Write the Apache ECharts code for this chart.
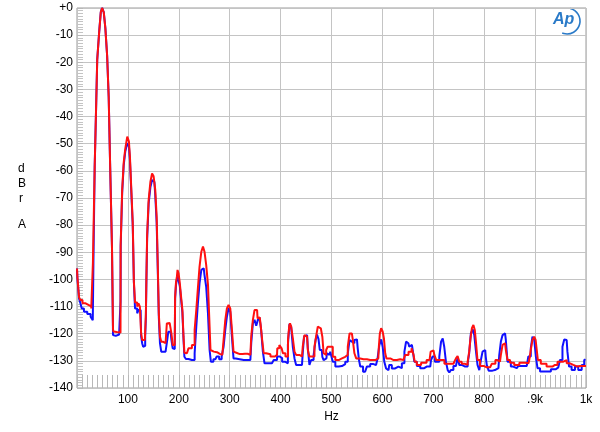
<!DOCTYPE html>
<html><head><meta charset="utf-8">
<script src="https://cdn.jsdelivr.net/npm/echarts@6/dist/echarts.min.js"></script>
<style>html,body{margin:0;padding:0;background:#fff}#c{width:600px;height:432px}</style>
</head><body><div id="c"></div>
<script>
// Frequency ticks (Hz) and labels
const xTicks = [100,200,300,400,500,600,700,800,900,1000];
const xTickLabels = ['100','200','300','400','500','600','700','800','.9k','1k'];
const yTopLabel = '+0';

// Red trace [Hz, dBrA]
const redSeries = [[0,-96],[1.5,-99],[3,-102.5],[5,-106.5],[8,-107.6],[13.6,-108.8],[20,-109.4],[25,-109.9],[31,-110.7],[31.5,-94],[34.5,-94],[35,-58.5],[37.5,-58],[38,-35],[39.5,-35],[40,-19],[43.5,-19],[44,-8.4],[46.5,-8.4],[47,-1.5],[49,-1.5],[49.6,0],[52.3,0],[52.8,-1.5],[55.5,-1.5],[56,-7.5],[59,-7.5],[59.4,-17.6],[62,-17.6],[62.6,-33],[64.5,-33],[65,-55],[68.5,-55],[69,-88.4],[70.5,-88.4],[71,-118.4],[72.4,-119.2],[78,-119.4],[85.5,-119.6],[85.6,-108],[86,-87.3],[88.5,-87.3],[89,-67],[91.5,-67],[92,-57],[94.5,-57],[95,-52],[98.5,-52],[99,-47.4],[101,-47.4],[103,-49.2],[105,-54.8],[108.5,-67],[110.5,-79],[113,-100.8],[115,-108.5],[117,-108.5],[119.5,-110],[122,-108.8],[125,-110],[127,-119.9],[129,-122.3],[133.3,-122.3],[134.6,-119.2],[136,-113],[136.6,-100],[139,-83.6],[142.5,-70.7],[146,-64],[149,-61],[152,-62],[155.5,-67],[157.5,-76.9],[159.5,-93],[162,-112.5],[164,-121.1],[167,-123],[172,-123.5],[176,-123.3],[177,-116.2],[180,-116],[184,-116],[187,-119.9],[189,-124.2],[192,-124.2],[193.5,-106.4],[195.5,-101],[197,-99],[198,-96.5],[201,-97.7],[203,-101.4],[205.5,-106],[208.5,-111],[210,-121],[212,-127],[216,-127.2],[222,-125.4],[229.5,-124.2],[232.7,-118.6],[236,-111.3],[239,-103.3],[242.5,-95.3],[246,-89.8],[249,-87.9],[252,-89.8],[255.7,-94.7],[259,-102],[261,-115],[263.5,-126],[265.5,-126.6],[272,-126.8],[278,-127.4],[283,-127.8],[288,-127.2],[289.6,-120.5],[293,-115],[296,-110.7],[299.5,-109.4],[302.8,-110.7],[306,-118.6],[309,-126.6],[311,-127.2],[320,-127.5],[330,-127.4],[340.6,-127.8],[344,-121],[347,-115],[350.5,-111.3],[353.8,-111.3],[355.7,-114.3],[359,-114],[362,-116.2],[365.6,-122.3],[368,-127.2],[375,-127.6],[385,-128.4],[393,-127.8],[394,-125.4],[401,-124.2],[403,-125.4],[406,-127.2],[413,-128.4],[416,-122.3],[418,-117],[419,-116.2],[422.5,-117.4],[425.6,-121.7],[429,-126.6],[432,-127.8],[442,-128.4],[445,-124.8],[448.6,-120.5],[452,-121],[455,-126],[458,-128.4],[465,-128.4],[468,-124.8],[471.4,-121.1],[474.7,-117.4],[479,-118],[481,-118],[483,-121.1],[486,-127.2],[488,-127.8],[491,-126],[494,-124.8],[501,-124.8],[504,-128.5],[511,-129.7],[517,-129.1],[524,-128.5],[530,-127.8],[534,-124.8],[537,-119.9],[540,-119.9],[543,-121.7],[547,-127.2],[550,-129.1],[563,-129.4],[576,-129.7],[586,-129.7],[592,-129.1],[594,-124.8],[596,-119.9],[599,-118],[602,-119.2],[604,-121.7],[607,-127.2],[609,-129.1],[622,-129.7],[635,-129.4],[641.5,-129.7],[648,-127.8],[654.6,-126.6],[660,-125.4],[662.5,-127.8],[664.4,-130.3],[671,-131.5],[681,-130.7],[692.6,-129.7],[697,-126.6],[700.4,-126.2],[703.7,-127.8],[708,-129.7],[717,-129.7],[726.6,-131.1],[739.6,-131.1],[743,-130.3],[746,-129.1],[749.5,-128.2],[752.7,-130.3],[759,-131.1],[766,-131.5],[769,-130.3],[772,-126.6],[774,-121.7],[777.6,-118],[780,-116.8],[783,-118.6],[785,-123.5],[788.7,-129.7],[795,-131.9],[805,-132.4],[811.6,-132.4],[818,-131.1],[826,-129.7],[831,-130.3],[834.5,-127.8],[837.7,-124.1],[841,-123.5],[844,-126],[847.6,-129.7],[854,-130.7],[864,-131.5],[874,-130.7],[887,-130.9],[890,-129.7],[893,-126],[896.6,-122.3],[900,-121.1],[902,-122.3],[904.5,-126],[906.4,-129.7],[916,-131.1],[929,-132.1],[939,-131.5],[949,-130.3],[955.5,-130.3],[959,-129.7],[965,-130.9],[972,-131.5],[978,-132.1],[988,-131.9],[1000,-131.9]];

// Blue trace [Hz, dBrA]
const blueSeries = [[0,-96],[1.5,-99.5],[3,-103],[5,-107],[8.4,-108.8],[10.3,-110.7],[17,-111.9],[23.4,-112.7],[30,-113.7],[32,-115],[32.5,-94],[34.5,-94],[35,-58.5],[37.5,-58],[38,-35],[39.5,-35],[40,-19],[43.5,-19],[44,-8.4],[46.5,-8.4],[47,-1.5],[49,-1.5],[49.6,0],[52.3,0],[52.8,-1.5],[55.5,-1.5],[56,-7.5],[59,-7.5],[59.4,-17.6],[62,-17.6],[62.6,-33],[64.5,-33],[65,-55],[68.5,-55],[69,-88.4],[70.5,-88.4],[71,-120.5],[72.4,-120.8],[80,-120.3],[85.5,-120],[85.6,-108],[86,-88],[88.5,-88],[89,-68],[91.5,-68],[92,-58],[94.5,-58],[95,-53],[98.5,-53],[99,-49.8],[101,-49.8],[103,-51],[105,-56],[108.5,-68],[110.5,-80],[113,-101],[115,-110.7],[117,-110.7],[119.5,-112.5],[122,-111.3],[125,-111.3],[127,-121],[129,-123.5],[131,-124.8],[133.3,-124.5],[134.6,-121],[136,-114],[136.6,-101],[139,-85],[142.5,-72],[146,-66],[149,-63.4],[152,-64],[155.5,-69],[157.5,-79],[159.5,-95],[162,-114],[164,-123.5],[167,-126.6],[172,-126.6],[176,-126.4],[178.6,-122.3],[180,-119.3],[184,-119.3],[187,-122.3],[189,-125.4],[192,-125.6],[193.5,-107],[195.5,-102],[197,-100],[198,-98.5],[201,-98.8],[203,-102.5],[205.5,-107],[208.5,-112],[210,-122],[212,-128.5],[216,-129.3],[222,-129.7],[229.5,-129.7],[232.7,-127.2],[236,-117.4],[239,-108.8],[242.5,-101.4],[246,-96.5],[249,-95.9],[252,-98.4],[255.6,-102.7],[259,-112.5],[262,-126],[264,-130.3],[272,-129.4],[276.5,-128.4],[282,-129.4],[286.4,-128.4],[289.6,-124.8],[293,-118.6],[296,-113.7],[299.5,-110.6],[302.7,-111.9],[306,-121.1],[309,-129.1],[314.5,-129.7],[340.6,-129.7],[344,-123.5],[347,-116.2],[350.5,-114.9],[353.7,-117.1],[357,-114.9],[360,-114],[363.5,-118.6],[366.8,-126.6],[370,-130.9],[383,-130.9],[390,-129.7],[396,-128.4],[401,-129],[405,-130.3],[412.6,-130.9],[416,-124.1],[419,-116.4],[422.4,-117.4],[425.6,-124.8],[429,-129.1],[432,-131.5],[442,-131.5],[445,-127.2],[447,-121.1],[452,-120.5],[455,-125.4],[458.3,-131.5],[461.6,-129.7],[468,-128],[470,-122],[473,-120.3],[476,-122],[478,-126],[481,-126],[483,-128.5],[486,-129.7],[490,-129.1],[492,-127.2],[496,-127.8],[499,-126.6],[501,-128.5],[504,-130.3],[511,-132.1],[517,-131.9],[524,-131.2],[530,-130.3],[534,-127.2],[537,-122.3],[540,-122.9],[543,-123.5],[547,-122.3],[550,-122.1],[553,-125.4],[555,-129.7],[558,-132.1],[566,-134],[573,-132.1],[579,-131.2],[586,-131.5],[589,-132.1],[592,-129.1],[596,-124.2],[599,-122.1],[602,-124.8],[605.5,-130.3],[609,-132.8],[612,-133.4],[615,-131.5],[622,-132.8],[628,-132.1],[635,-132.7],[641.5,-130.9],[645,-126.6],[648,-122.9],[651,-123.5],[654.6,-124.8],[658,-124.1],[661,-126],[664.4,-130.3],[671,-131.9],[677.5,-132.7],[687,-132.1],[694,-132.1],[697,-129.7],[700.4,-128.4],[705.6,-130.3],[710,-130.3],[713.5,-128.4],[717,-122.9],[720,-121.7],[723,-124.8],[726.6,-130.3],[730,-133.4],[733,-134.3],[736,-133.4],[743,-131.9],[746,-131.5],[749.5,-128.7],[752.7,-131.5],[759,-132.1],[766,-132.1],[769,-130.9],[772,-127.2],[775.6,-119.9],[779,-118.4],[782,-120.5],[785,-126],[788.7,-131.5],[792,-133.4],[795,-129.7],[798.5,-126.6],[802,-126],[804,-128.4],[806,-131.5],[811.6,-133.6],[821,-133.4],[828,-132.7],[831,-128],[834.5,-122.9],[837.7,-120.5],[841,-119.9],[844,-122.3],[847.6,-130.3],[857,-132.1],[864,-132.7],[870,-131.9],[883.5,-131.9],[890,-128.4],[893,-125.4],[896.6,-121.1],[900,-122.3],[903,-128.4],[906.4,-132.7],[913,-133.9],[926,-133.9],[936,-133.1],[945.6,-132.4],[952,-129.7],[955.5,-124.8],[959,-122.1],[962,-122.3],[965,-126.6],[968.5,-132.1],[975,-133.4],[981.6,-132.1],[988,-133.4],[995,-131.5],[998,-129.7],[1000,-129.4]];

const chart = echarts.init(document.getElementById('c'), null, {renderer:'canvas'});
const FONT = 'Liberation Sans, Arial, sans-serif';
const option = {
  animation: false,
  backgroundColor: '#fff',
  grid: {left: 77, right: 14, top: 8, bottom: 44, show: true, borderColor: '#9a9a9a', borderWidth: 1, containLabel: false},
  xAxis: {
    type: 'value', min: 0, max: 1000, interval: 100,
    axisLine: {show: false, onZero: false},
    axisTick: {show: true, inside: true, length: 13, lineStyle: {color: '#b8b8b8'}},
    minorTick: {show: true, splitNumber: 10, length: 13, lineStyle: {color: '#b8b8b8'}},
    splitLine: {show: true, lineStyle: {color: '#c4c4c4', width: 1}},
    axisLabel: {
      color: '#000', fontFamily: FONT, fontSize: 12, margin: 6,
      formatter: function (v) { const i = xTicks.indexOf(v); return i >= 0 ? xTickLabels[i] : ''; }
    },
    name: 'Hz', nameLocation: 'middle', nameGap: 20,
    nameTextStyle: {color: '#000', fontFamily: FONT, fontSize: 12}
  },
  yAxis: {
    type: 'value', min: -140, max: 0, interval: 10,
    axisLine: {show: false, onZero: false},
    axisTick: {show: true, inside: true, length: 6, lineStyle: {color: '#b8b8b8'}},
    minorTick: {show: true, splitNumber: 10, length: 6, lineStyle: {color: '#c4c4c4'}},
    splitLine: {show: true, lineStyle: {color: '#c4c4c4', width: 1}},
    axisLabel: {
      color: '#000', fontFamily: FONT, fontSize: 12, margin: 4,
      showMinLabel: true, showMaxLabel: true,
      formatter: function (v) { return v === 0 ? yTopLabel : String(v); }
    }
  },
  graphic: [
    {type: 'text', left: 18, top: 163, style: {text: 'd', fill: '#000', font: '12px ' + FONT}},
    {type: 'text', left: 18, top: 178, style: {text: 'B', fill: '#000', font: '12px ' + FONT}},
    {type: 'text', left: 19, top: 193, style: {text: 'r', fill: '#000', font: '12px ' + FONT}},
    {type: 'text', left: 18, top: 219, style: {text: 'A', fill: '#000', font: '12px ' + FONT}},
    {type: 'text', left: 553, top: 12, style: {text: 'Ap', fill: '#2a7ac8', font: 'italic bold 16px ' + FONT}},
    {type: 'arc', shape: {cx: 567, cy: 21, r: 13, startAngle: -Math.PI * 0.42, endAngle: Math.PI * 0.62, clockwise: true},
      style: {stroke: '#2a7ac8', lineWidth: 1.6, fill: null}}
  ],
  series: [
    {type: 'line', step: 'middle', data: blueSeries, showSymbol: false, lineStyle: {color: '#1010ff', width: 2}, itemStyle: {color: '#1010ff'}, z: 2},
    {type: 'line', step: 'middle', data: redSeries, showSymbol: false, lineStyle: {color: '#ff1010', width: 2}, itemStyle: {color: '#ff1010'}, z: 3}
  ]
};
chart.setOption(option);
</script></body></html>
